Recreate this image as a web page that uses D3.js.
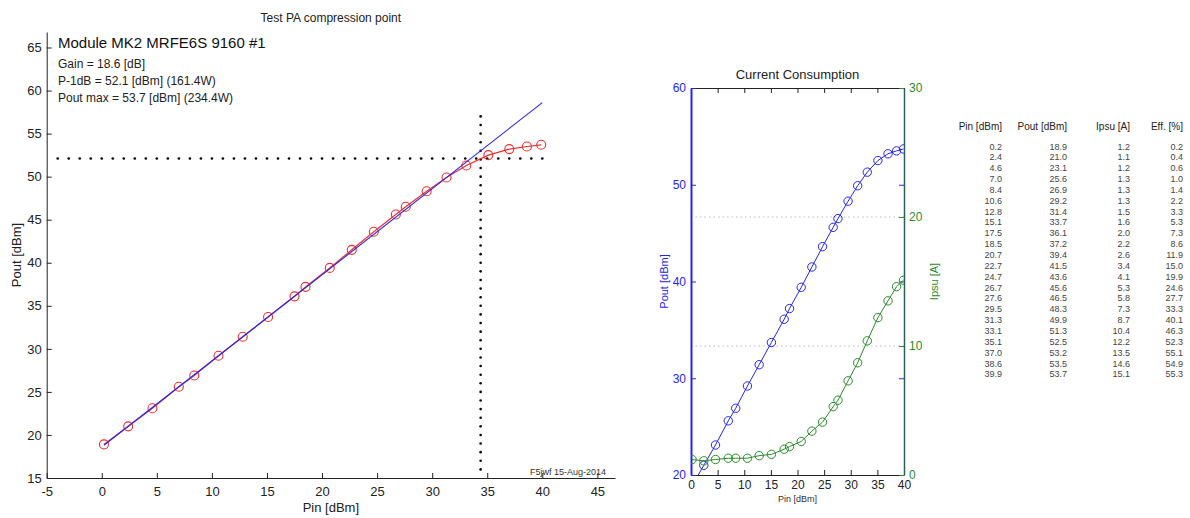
<!DOCTYPE html>
<html>
<head>
<meta charset="utf-8">
<script src="https://cdn.jsdelivr.net/npm/d3@7"></script>
<style>
  body { margin: 0; background: #fff; }
  svg { display: block; font-family: "Liberation Sans", Arial, sans-serif; }
</style>
</head>
<body>
<div id="chart"></div>
<script>
// measured data (Pin sweep)
const pinVals  = [0.2, 2.4, 4.6, 7.0, 8.4, 10.6, 12.8, 15.1, 17.5, 18.5, 20.7, 22.7, 24.7, 26.7, 27.6, 29.5, 31.3, 33.1, 35.1, 37.0, 38.6, 39.9];
const poutVals = [18.9, 21.0, 23.1, 25.6, 26.9, 29.2, 31.4, 33.7, 36.1, 37.2, 39.4, 41.5, 43.6, 45.6, 46.5, 48.3, 49.9, 51.3, 52.5, 53.2, 53.5, 53.7];
const ipsuVals = [1.2, 1.1, 1.2, 1.3, 1.3, 1.3, 1.5, 1.6, 2.0, 2.2, 2.6, 3.4, 4.1, 5.3, 5.8, 7.3, 8.7, 10.4, 12.2, 13.5, 14.6, 15.1];
const effVals  = [0.2, 0.4, 0.6, 1.0, 1.4, 2.2, 3.3, 5.3, 7.3, 8.6, 11.9, 15.0, 19.9, 24.6, 27.7, 33.3, 40.1, 46.3, 52.3, 55.1, 54.9, 55.3];

// summary numbers
const gainDb = 18.6;
const p1dB = 52.1, p1dBWatt = 161.4, p1dBPin = 34.4;
const poutMax = 53.7, poutMaxWatt = 234.4;
const gainLineEnd = 40;

// ticks
const leftXTicks = d3.range(-5, 46, 5);
const leftYTicks = d3.range(15, 66, 5);
const rightXTicks = d3.range(0, 41, 5);
const rightPoutTicks = [20, 30, 40, 50, 60];
const rightIpsuTicks = [0, 10, 20, 30];

const tableHeaders = ["Pin [dBm]", "Pout [dBm]", "Ipsu [A]", "Eff. [%]"];

const W = 1190, H = 518;
const blue = "#2626e8", red = "#e83030", green = "#2a8c2a";
const plain = d => String(d); // keep ascii hyphen for negatives

const svg = d3.select("#chart").append("svg")
    .attr("width", W).attr("height", H);

// ---------- left chart: compression point ----------
const xL = d3.scaleLinear().domain([-5, 46.6]).range([46.7, 615]);
const yL = d3.scaleLinear().domain([15, 66.8]).range([478, 32]);

const gL = svg.append("g");

const axL = gL.append("g").attr("transform", `translate(0,${yL.range()[0]})`)
    .call(d3.axisBottom(xL).tickValues(leftXTicks).tickFormat(plain).tickSize(-5).tickSizeOuter(0).tickPadding(9));
const ayL = gL.append("g").attr("transform", `translate(${xL.range()[0]},0)`)
    .call(d3.axisLeft(yL).tickValues(leftYTicks).tickFormat(plain).tickSize(-5).tickSizeOuter(0).tickPadding(5));
[axL, ayL].forEach(a => {
    a.attr("font-size", 13).attr("font-family", null);
    a.selectAll("path, line").attr("stroke", "#222");
    a.selectAll("text").attr("fill", "#222");
});

gL.append("text").attr("x", (xL.range()[0] + xL.range()[1]) / 2).attr("y", 22)
    .attr("text-anchor", "middle").attr("font-size", 12).attr("fill", "#222")
    .text("Test PA compression point");
gL.append("text").attr("x", (xL.range()[0] + xL.range()[1]) / 2).attr("y", 512)
    .attr("text-anchor", "middle").attr("font-size", 13).attr("fill", "#222")
    .text("Pin [dBm]");
gL.append("text").attr("transform", `translate(21,${(yL.range()[0] + yL.range()[1]) / 2}) rotate(-90)`)
    .attr("text-anchor", "middle").attr("font-size", 13).attr("fill", "#222")
    .text("Pout [dBm]");

gL.append("text").attr("x", 58).attr("y", 48).attr("font-size", 15).attr("fill", "#111")
    .text("Module MK2 MRFE6S 9160 #1");
const notes = [
    `Gain = ${gainDb} [dB]`,
    `P-1dB = ${p1dB} [dBm] (${p1dBWatt}W)`,
    `Pout max = ${poutMax} [dBm] (${poutMaxWatt}W)`
];
gL.selectAll("text.note").data(notes).join("text").attr("class", "note")
    .attr("x", 58).attr("y", (d, i) => 68 + i * 17)
    .attr("font-size", 12).attr("fill", "#222").text(d => d);

gL.append("text").attr("x", 530).attr("y", 475).attr("font-size", 9).attr("fill", "#333")
    .text("F5jwf 15-Aug-2014");

// dotted P-1dB markers
gL.selectAll("circle.hdot").data(d3.range(-4, 41)).join("circle").attr("class", "hdot")
    .attr("cx", d => xL(d)).attr("cy", yL(p1dB)).attr("r", 1.3).attr("fill", "#000");
gL.selectAll("circle.vdot").data(d3.range(16, 58)).join("circle").attr("class", "vdot")
    .attr("cx", xL(p1dBPin)).attr("cy", d => yL(d)).attr("r", 1.3).attr("fill", "#000");

// measured curve
const lineL = d3.line().x((d, i) => xL(pinVals[i])).y(d => yL(d));
gL.append("path").datum(poutVals).attr("d", lineL)
    .attr("fill", "none").attr("stroke", red).attr("stroke-width", 1.2);
gL.selectAll("circle.pt").data(poutVals).join("circle").attr("class", "pt")
    .attr("cx", (d, i) => xL(pinVals[i])).attr("cy", d => yL(d)).attr("r", 4.5)
    .attr("fill", "none").attr("stroke", red).attr("stroke-width", 1.1);

// linear gain line
gL.append("line")
    .attr("x1", xL(pinVals[0])).attr("y1", yL(pinVals[0] + gainDb))
    .attr("x2", xL(gainLineEnd)).attr("y2", yL(gainLineEnd + gainDb))
    .attr("stroke", blue).attr("stroke-width", 1.1);

// ---------- right chart: current consumption ----------
const xR = d3.scaleLinear().domain([0, 40]).range([691, 904]);
const yP = d3.scaleLinear().domain([20, 60]).range([475, 88]);
const yI = d3.scaleLinear().domain([0, 30]).range([475, 88]);

const gR = svg.append("g");
gR.append("clipPath").attr("id", "clipR").append("rect")
    .attr("x", xR.range()[0]).attr("y", yP.range()[1])
    .attr("width", xR.range()[1] - xR.range()[0]).attr("height", yP.range()[0] - yP.range()[1]);

// grid from the current axis
gR.selectAll("line.grid").data(rightIpsuTicks.filter(t => t > 0 && t < 30)).join("line")
    .attr("class", "grid")
    .attr("x1", xR.range()[0]).attr("x2", xR.range()[1])
    .attr("y1", d => yI(d)).attr("y2", d => yI(d))
    .attr("stroke", "#bbb").attr("stroke-dasharray", "1.5,3");

const bx = gR.append("g").attr("transform", `translate(0,${yP.range()[0]})`)
    .call(d3.axisBottom(xR).tickValues(rightXTicks).tickFormat(plain).tickSize(-5).tickSizeOuter(0).tickPadding(5));
const tx = gR.append("g").attr("transform", `translate(0,${yP.range()[1]})`)
    .call(d3.axisTop(xR).tickValues(rightXTicks).tickSize(-5).tickSizeOuter(0).tickFormat(""));
[bx, tx].forEach(a => {
    a.attr("font-size", 12).attr("font-family", null);
    a.selectAll("path, line").attr("stroke", "#222");
    a.selectAll("text").attr("fill", "#222");
});

const lp = gR.append("g").attr("transform", `translate(${xR.range()[0]},0)`)
    .call(d3.axisLeft(yP).tickValues(rightPoutTicks).tickFormat(plain).tickSize(-5).tickSizeOuter(0).tickPadding(5));
lp.attr("font-size", 12).attr("font-family", null);
lp.selectAll("line").attr("stroke", blue);
lp.select("path").attr("stroke", blue).attr("stroke-width", 2);
lp.selectAll("text").attr("fill", blue);

const lpR = gR.append("g").attr("transform", `translate(${xR.range()[1]},0)`)
    .call(d3.axisRight(yP).tickValues(rightPoutTicks).tickSize(-5).tickSizeOuter(0).tickFormat(""));
lpR.select("path").remove();
lpR.selectAll("line").attr("stroke", blue);

const ri = gR.append("g").attr("transform", `translate(${xR.range()[1]},0)`)
    .call(d3.axisRight(yI).tickValues(rightIpsuTicks).tickFormat(plain).tickSize(-5).tickSizeOuter(0).tickPadding(5));
ri.attr("font-size", 12).attr("font-family", null);
ri.selectAll("line").attr("stroke", green);
ri.select("path").attr("stroke", "#2f5f58").attr("stroke-width", 1.5);
ri.selectAll("text").attr("fill", green);

gR.append("text").attr("x", (xR.range()[0] + xR.range()[1]) / 2).attr("y", 79)
    .attr("text-anchor", "middle").attr("font-size", 13).attr("fill", "#222")
    .text("Current Consumption");
gR.append("text").attr("x", (xR.range()[0] + xR.range()[1]) / 2).attr("y", 502)
    .attr("text-anchor", "middle").attr("font-size", 9).attr("fill", "#333")
    .text("Pin [dBm]");
gR.append("text").attr("transform", `translate(668,${(yP.range()[0] + yP.range()[1]) / 2}) rotate(-90)`)
    .attr("text-anchor", "middle").attr("font-size", 11).attr("fill", blue).text("Pout [dBm]");
gR.append("text").attr("transform", `translate(938,${(yP.range()[0] + yP.range()[1]) / 2}) rotate(-90)`)
    .attr("text-anchor", "middle").attr("font-size", 11).attr("fill", green).text("Ipsu [A]");

const plot = gR.append("g").attr("clip-path", "url(#clipR)");
const series = [
    { vals: poutVals, y: yP, color: blue },
    { vals: ipsuVals, y: yI, color: green }
];
series.forEach(s => {
    plot.append("path").datum(s.vals)
        .attr("d", d3.line().x((d, i) => xR(pinVals[i])).y(d => s.y(d)))
        .attr("fill", "none").attr("stroke", s.color).attr("stroke-width", 1);
    plot.selectAll(null).data(s.vals).join("circle")
        .attr("cx", (d, i) => xR(pinVals[i])).attr("cy", d => s.y(d)).attr("r", 4.2)
        .attr("fill", "none").attr("stroke", s.color).attr("stroke-width", 1);
});

// ---------- data table ----------
const colRight = [1002, 1067, 1130, 1183];
const rowY = d3.scalePoint().domain(d3.range(pinVals.length)).range([149.5, 149.5 + (pinVals.length - 1) * 10.85]);
const gT = svg.append("g").attr("text-anchor", "end");
gT.selectAll("text.hdr").data(tableHeaders).join("text").attr("class", "hdr")
    .attr("x", (d, i) => colRight[i]).attr("y", 130)
    .attr("font-size", 10).attr("fill", "#222").text(d => d);
const cols = [pinVals, poutVals, ipsuVals, effVals];
cols.forEach((col, c) => {
    gT.selectAll(null).data(col).join("text")
        .attr("x", colRight[c]).attr("y", (d, i) => rowY(i))
        .attr("font-size", 9).attr("fill", "#444").text(d => d.toFixed(1));
});
</script>
</body>
</html>
